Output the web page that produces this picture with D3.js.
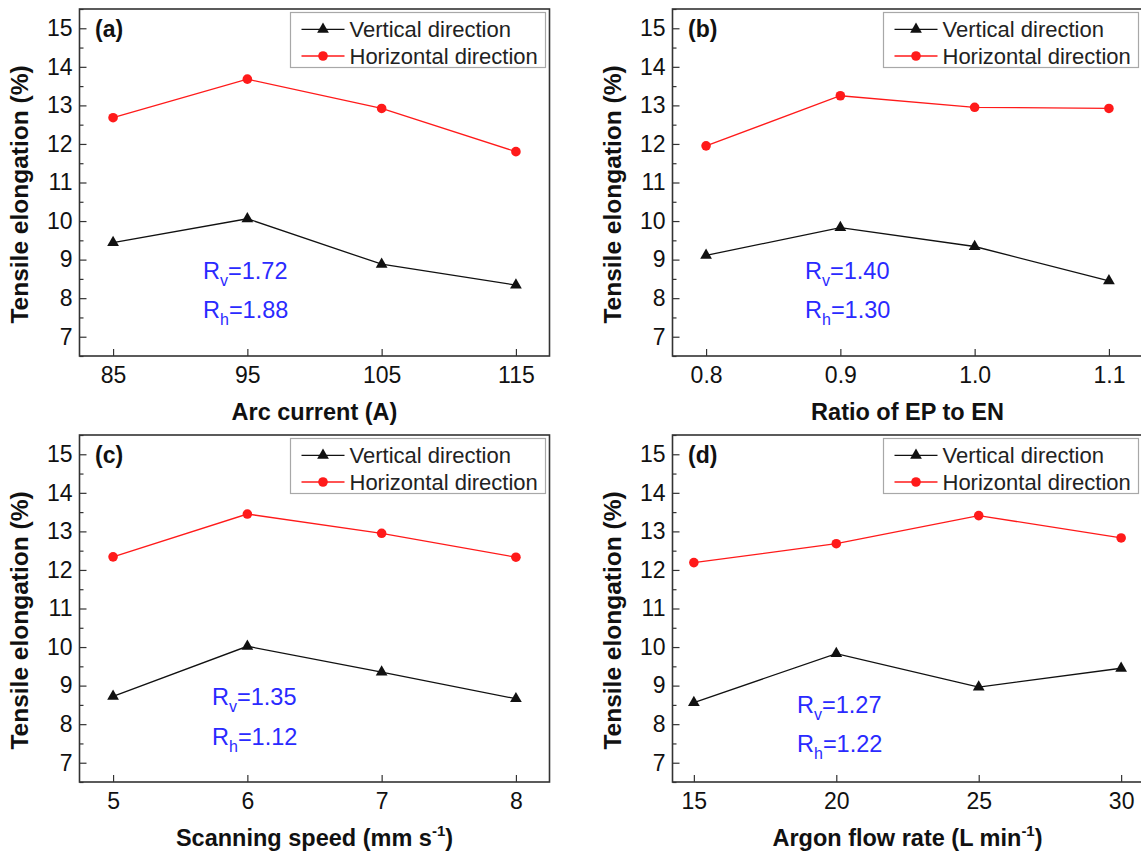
<!DOCTYPE html>
<html>
<head>
<meta charset="utf-8">
<script src="https://cdn.jsdelivr.net/npm/d3@7"></script>
<style>
  body { margin: 0; background: #fff; }
  svg { display: block; font-family: "Liberation Sans", Arial, sans-serif; }
</style>
</head>
<body>
<div id="chart"></div>
<script>
// values
const arcCurrent = [85, 95, 105, 115];
const arcVertical = [9.44, 10.06, 8.88, 8.34];
const arcHorizontal = [12.68, 13.68, 12.92, 11.80];

const epRatio = [0.8, 0.9, 1.0, 1.1];
const epVertical = [9.11, 9.83, 9.34, 8.45];
const epHorizontal = [11.95, 13.25, 12.95, 12.92];

const scanSpeed = [5, 6, 7, 8];
const scanVertical = [8.72, 10.02, 9.35, 8.66];
const scanHorizontal = [12.34, 13.45, 12.95, 12.33];

const argonFlow = [15, 20, 25, 30];
const argonVertical = [8.56, 9.83, 8.96, 9.45];
const argonHorizontal = [12.19, 12.68, 13.41, 12.83];

const yTicks = [7, 8, 9, 10, 11, 12, 13, 14, 15];
const yMinorTicks = [6.5, 7.5, 8.5, 9.5, 10.5, 11.5, 12.5, 13.5, 14.5, 15.5];
const panelLabels = ["(a)", "(b)", "(c)", "(d)"];
const rvValues = ["1.72", "1.40", "1.35", "1.27"];
const rhValues = ["1.88", "1.30", "1.12", "1.22"];
const seriesNames = ["Vertical direction", "Horizontal direction"];

// plot area size, same for all four panels
const PW = 470, PH = 347;

const panels = [
  {x: arcCurrent, v: arcVertical, h: arcHorizontal, dom: [82.5, 117.5], fmt: d3.format("d"),
   title: "Arc current (A)", sup: null, left: 79.5, top: 9, ann: [123.5, 262, 301]},
  {x: epRatio, v: epVertical, h: epHorizontal, dom: [0.775, 1.125], fmt: d3.format(".1f"),
   title: "Ratio of EP to EN", sup: null, left: 672.5, top: 9, ann: [132.5, 262, 301]},
  {x: scanSpeed, v: scanVertical, h: scanHorizontal, dom: [4.75, 8.25], fmt: d3.format("d"),
   title: "Scanning speed (mm s", sup: "-1", left: 79.5, top: 435, ann: [132.5, 262, 302]},
  {x: argonFlow, v: argonVertical, h: argonHorizontal, dom: [14.25, 30.75], fmt: d3.format("d"),
   title: "Argon flow rate (L min", sup: "-1", left: 672.5, top: 435, ann: [124.5, 270, 309]}
];

const svg = d3.select("#chart").append("svg")
  .attr("width", 1141)
  .attr("height", 856);

svg.append("rect").attr("width", 1141).attr("height", 856).attr("fill", "#fff");

const y = d3.scaleLinear().domain([6.5, 15.5]).range([PH, 0]);
const triangle = d3.symbol().type(d3.symbolTriangle).size(60);

panels.forEach((p, i) => {
  const g = svg.append("g").attr("transform", `translate(${p.left},${p.top})`);
  const x = d3.scaleLinear().domain(p.dom).range([0, PW]);

  // y axis, ticks pointing inward
  g.append("g").call(d3.axisLeft(y).tickValues(yTicks).tickSize(-7).tickPadding(7));
  g.append("g").call(d3.axisLeft(y).tickValues(yMinorTicks).tickSize(-4).tickFormat(""));
  // x axis
  g.append("g").attr("transform", `translate(0,${PH})`)
    .call(d3.axisBottom(x).tickValues(p.x).tickSize(-7).tickPadding(11).tickFormat(p.fmt));

  g.selectAll(".domain").remove();
  g.selectAll(".tick line").attr("stroke", "#333").attr("stroke-width", 1.2);
  g.selectAll(".tick text").attr("font-size", 23).attr("fill", "#111")
    .attr("font-family", "Liberation Sans, Arial, sans-serif");

  // frame
  g.append("rect").attr("width", PW).attr("height", PH)
    .attr("fill", "none").attr("stroke", "#333").attr("stroke-width", 1.6);

  // axis titles
  g.append("text")
    .attr("transform", `translate(-57.5,${PH / 2 + 12}) rotate(-90)`)
    .attr("text-anchor", "middle").attr("dominant-baseline", "middle")
    .attr("font-size", 24.5).attr("font-weight", "bold").attr("fill", "#111")
    .text("Tensile elongation (%)");

  const xt = g.append("text")
    .attr("x", PW / 2).attr("y", PH + 64)
    .attr("text-anchor", "middle")
    .attr("font-size", 23.5).attr("font-weight", "bold").attr("fill", "#111");
  xt.append("tspan").text(p.title);
  if (p.sup) {
    xt.append("tspan").attr("font-size", 15).attr("dy", -10).text(p.sup);
    xt.append("tspan").attr("dy", 10).text(")");
  }

  // panel label
  g.append("text").attr("x", 15.5).attr("y", 28)
    .attr("font-size", 23).attr("font-weight", "bold").attr("fill", "#111")
    .text(panelLabels[i]);

  // series
  const line = d3.line().x(d => x(d[0])).y(d => y(d[1]));
  const vData = p.x.map((d, k) => [d, p.v[k]]);
  const hData = p.x.map((d, k) => [d, p.h[k]]);

  g.append("path").datum(hData).attr("d", line)
    .attr("fill", "none").attr("stroke", "#ff1a1a").attr("stroke-width", 1.3);
  g.append("path").datum(vData).attr("d", line)
    .attr("fill", "none").attr("stroke", "#111").attr("stroke-width", 1.3);

  g.selectAll(".hdot").data(hData).enter().append("circle")
    .attr("cx", d => x(d[0])).attr("cy", d => y(d[1])).attr("r", 4.8)
    .attr("fill", "#ff1a1a");
  g.selectAll(".vtri").data(vData).enter().append("path")
    .attr("d", triangle)
    .attr("transform", d => `translate(${x(d[0])},${y(d[1])})`)
    .attr("fill", "#111");

  // legend
  const lw = 255, lh = 55;
  const lg = g.append("g").attr("transform", `translate(${PW - 4 - lw},3.5)`);
  lg.append("rect").attr("width", lw).attr("height", lh)
    .attr("fill", "#fff").attr("stroke", "#a8a8a8").attr("stroke-width", 1.2);
  [16.8, 43.5].forEach((ry, k) => {
    const col = k === 0 ? "#111" : "#ff1a1a";
    lg.append("line").attr("x1", 11).attr("x2", 54).attr("y1", ry).attr("y2", ry)
      .attr("stroke", col).attr("stroke-width", 1.3);
    if (k === 0) {
      lg.append("path").attr("d", triangle).attr("transform", `translate(32.5,${ry})`).attr("fill", col);
    } else {
      lg.append("circle").attr("cx", 32.5).attr("cy", ry).attr("r", 4.8).attr("fill", col);
    }
    lg.append("text").attr("x", 59).attr("y", ry).attr("dy", "0.36em")
      .attr("font-size", 22).attr("fill", "#222").text(seriesNames[k]);
  });

  // ratio annotations
  [["v", rvValues[i]], ["h", rhValues[i]]].forEach((r, k) => {
    const t = g.append("text").attr("x", p.ann[0]).attr("y", p.ann[1 + k]).attr("dy", "0.36em")
      .attr("font-size", 23.5).attr("fill", "#2a2aff");
    t.append("tspan").text("R");
    t.append("tspan").attr("font-size", 16).attr("dy", 7).text(r[0]);
    t.append("tspan").attr("dy", -7).text("=" + r[1]);
  });
});
</script>
</body>
</html>
